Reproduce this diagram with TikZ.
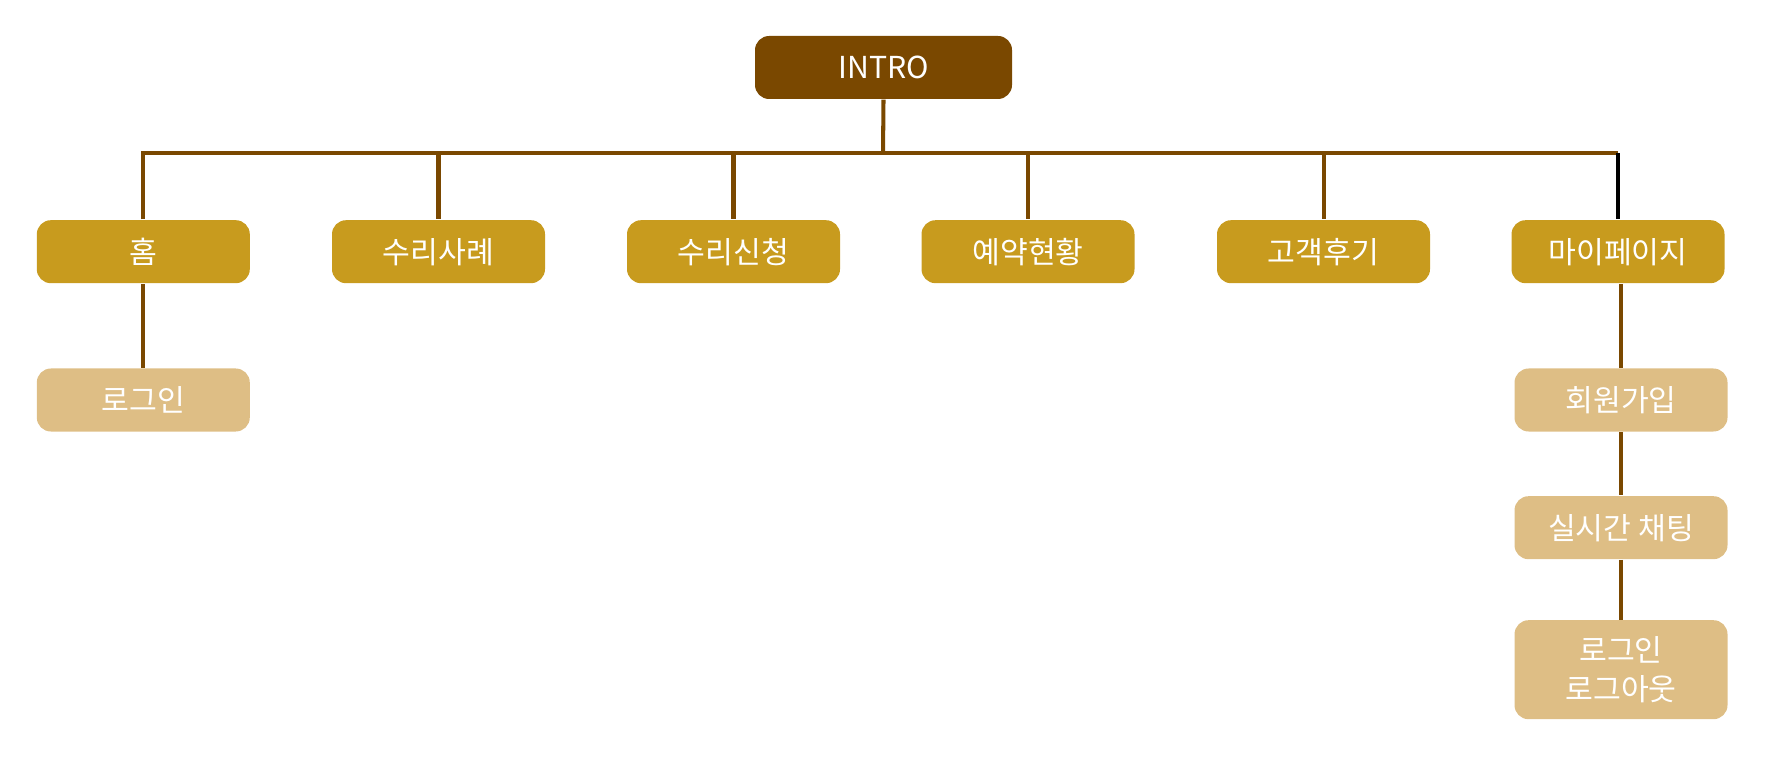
\documentclass[tikz,border=0pt]{standalone}
\usepackage{fontspec}
\newfontfamily\kofont{Noto Sans CJK KR}
\usetikzlibrary{positioning}
\definecolor{bark}{RGB}{122,72,0}
\definecolor{mustard}{RGB}{200,155,30}
\definecolor{sand}{RGB}{222,190,133}
\tikzset{
  topbox/.style={fill=bark,text=white,rounded corners=4pt,minimum width=2.57cm,
    minimum height=0.63cm,font=\kofont\fontsize{8.6}{10}\selectfont},
  menu/.style={fill=mustard,text=white,rounded corners=4pt,minimum width=2.13cm,
    minimum height=0.63cm,font=\kofont\fontsize{8.6}{10}\selectfont},
  sub/.style={fill=sand,text=white,rounded corners=4pt,minimum width=2.13cm,
    minimum height=0.63cm,align=center,font=\kofont\fontsize{8.6}{11}\selectfont},
  link/.style={draw=#1,line width=1.15pt},
  link/.default=bark,
}

\begin{document}
\begin{tikzpicture}
        \useasboundingbox (0,0) rectangle (17.73,-7.74);
        \node[topbox] (intro) at (8.835,-0.675) {INTRO};
        \coordinate (bar) at (8.83,-1.533);
        \foreach \n/\x/\t in {home/1.433/홈,cases/4.385/수리사례,apply/7.335/수리신청,
          booking/10.28/예약현황,review/13.235/고객후기,mypage/16.18/마이페이지}{
          \node[menu] (\n) at (\x,-2.517) {\t};
        }
        \coordinate (barR) at (mypage.north |- bar);
        \draw[link] (intro.south) -- (bar);
        \draw[link] (home.north) |- (barR);
        \foreach \n in {cases,apply,booking,review}
          \draw[link] (\n.north |- bar) -- (\n.north);
        \draw[link=black] (barR) -- (mypage.north);
        % sub pages
        \node[sub] (login) at (1.433,-4.0) {로그인};
        \node[sub] (join) at (16.21,-4.0) {회원가입};
        \node[sub] (chat) at (16.21,-5.277) {실시간 채팅};
        \node[sub,minimum height=0.99cm] (logout) at (16.21,-6.697) {로그인\\로그아웃};
        \draw[link] (home.south) -- (login.north);
        \draw[link] (join.north |- mypage.south) -- (join.north);
        \draw[link] (join.south) -- (chat.north);
        \draw[link] (chat.south) -- (logout.north);
      \end{tikzpicture}
\end{document}
